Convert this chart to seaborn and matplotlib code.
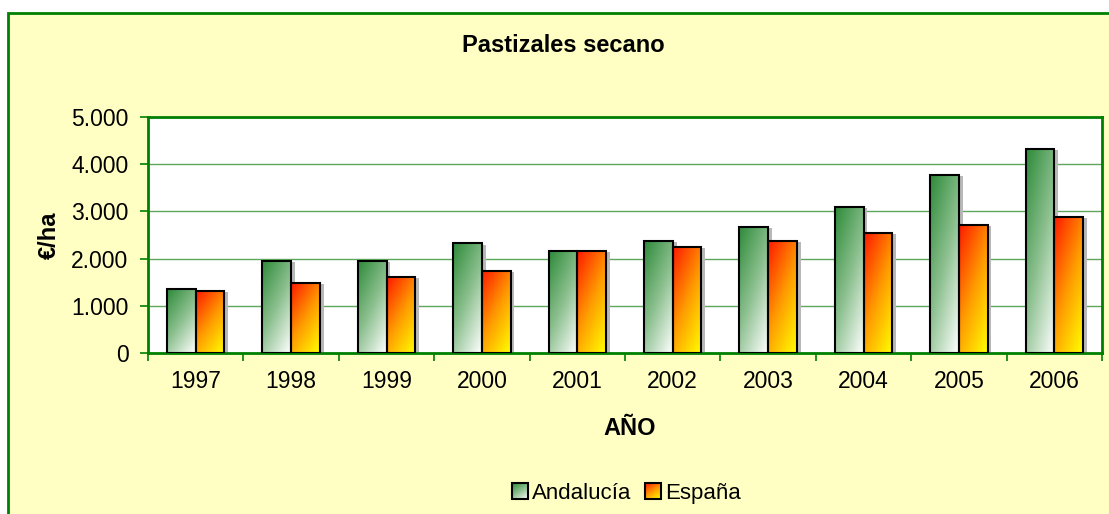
import numpy as np
import pandas as pd
import matplotlib
matplotlib.use("Agg")
import matplotlib.pyplot as plt
import seaborn as sns
from matplotlib.patches import Rectangle
from matplotlib.colors import LinearSegmentedColormap
from matplotlib.legend_handler import HandlerBase
from matplotlib.image import BboxImage
from matplotlib.transforms import Bbox, TransformedBbox

years = ["1997", "1998", "1999", "2000", "2001", "2002", "2003", "2004", "2005", "2006"]
andalucia = [1350, 1950, 1950, 2320, 2160, 2370, 2670, 3090, 3770, 4320]
espana = [1310, 1480, 1610, 1740, 2160, 2240, 2370, 2540, 2710, 2880]
series = ["Andalucía", "España"]
yticks = [0, 1000, 2000, 3000, 4000, 5000]
ytick_labels = ["0", "1.000", "2.000", "3.000", "4.000", "5.000"]

df = pd.DataFrame({
    "year": years * 2,
    "value": andalucia + espana,
    "serie": [series[0]] * len(years) + [series[1]] * len(years),
})

sns.set_theme(style="white")
plt.rcParams["font.family"] = ["Liberation Sans", "DejaVu Sans"]
plt.rcParams["text.color"] = "black"
plt.rcParams["axes.labelcolor"] = "black"
plt.rcParams["xtick.color"] = "black"
plt.rcParams["ytick.color"] = "black"

BG = "#FFFFC4"
GREEN = "#008000"
GRID = "#5DA85D"

cmaps = {
    series[0]: LinearSegmentedColormap.from_list("g", ["#2E8B3A", "#8CC08F", "#FFFFFF"]),
    series[1]: LinearSegmentedColormap.from_list("o", ["#FF1A00", "#FF9A00", "#FFFF00"]),
}

def grad_array(n=64):
    u = np.linspace(0, 1, n)[None, :]
    v = np.linspace(0, 1, n)[:, None]
    return 0.6 * v + 0.4 * u  # top-left dark -> bottom-right light

fig = plt.figure(figsize=(11.09, 5.14), dpi=100)
fig.patch.set_facecolor("white")
frame = Rectangle((8 / 1109, -0.1), 1.2, 1 - 13 / 514 + 0.1, transform=fig.transFigure,
                  facecolor=BG, edgecolor=GREEN, linewidth=2, zorder=-10)
fig.patches.append(frame)

ax = fig.add_axes([148 / 1109, 1 - 353 / 514, (1102 - 148) / 1109, (353 - 117) / 514])
ax.set_facecolor("white")

sns.barplot(data=df, x="year", y="value", hue="serie", order=years, hue_order=series,
            palette=["#6FB06F", "#FF9A00"], width=0.6, ax=ax, legend=False,
            edgecolor="black", linewidth=1.5, saturation=1)

g = grad_array()
bars = list(ax.patches)
n = len(years)
for i, p in enumerate(bars):
    s = series[0] if i < n else series[1]
    x0, y0 = p.get_x(), p.get_y()
    w, h = p.get_width(), p.get_height()
    sh = Rectangle((x0 + 0.04, y0), w, h - 25, facecolor="#B8B8B8", edgecolor="none", zorder=1.5)
    ax.add_patch(sh)
    im = ax.imshow(g, cmap=cmaps[s], extent=[x0, x0 + w, y0, y0 + h], origin="upper",
                   aspect="auto", zorder=2, interpolation="bilinear", vmin=0, vmax=1)
    im.set_clip_path(p)
    p.set_facecolor("none")
    p.set_zorder(3)

ax.set_xlim(-0.5, n - 0.5)
ax.set_ylim(0, 5000)
ax.set_yticks(yticks)
ax.set_yticklabels(ytick_labels)
ax.set_xticks(range(n))
ax.set_xticklabels(years)
ax.set_xticks(np.arange(-0.5, n, 1.0), minor=True)
ax.yaxis.grid(True, color=GRID, linewidth=1)
ax.set_axisbelow(True)
for sp in ax.spines.values():
    sp.set_color(GREEN)
    sp.set_linewidth(2)
ax.tick_params(axis="x", which="major", length=0, pad=12, labelsize=16.5, labelcolor="black")
ax.tick_params(axis="x", which="minor", length=6, width=1.2, color=GREEN, direction="out", bottom=True)
ax.tick_params(axis="y", length=6, width=1.2, color=GREEN, direction="out", left=True,
               labelsize=16.5, labelcolor="black", pad=8)

ax.set_xlabel("AÑO", fontsize=17, fontweight="bold")
ax.xaxis.set_label_coords(0.505, -0.318)
ax.xaxis.label.set_va("center")
ax.set_ylabel("€/ha", fontsize=17, fontweight="bold")
ax.yaxis.set_label_coords(-0.103, 0.5)
ax.yaxis.label.set_va("center")

ax.text(0.435, 1.305, "Pastizales secano", transform=ax.transAxes, ha="center", va="center",
        fontsize=17, fontweight="bold", color="black")


class GradHandler(HandlerBase):
    def __init__(self, cmap):
        super().__init__()
        self.cmap = cmap

    def create_artists(self, legend, orig_handle, xdescent, ydescent, width, height, fontsize, trans):
        size = min(width, height) * 1.0
        x = -xdescent + width - size
        y = -ydescent + (height - size) / 2
        bb = TransformedBbox(Bbox.from_bounds(x, y, size, size), trans)
        img = BboxImage(bb, cmap=self.cmap, norm=matplotlib.colors.Normalize(0, 1),
                        interpolation="bilinear", origin="upper")
        img.set_data(grad_array())
        rect = Rectangle((x, y), size, size, facecolor="none", edgecolor="black",
                         linewidth=1.5, transform=trans)
        return [img, rect]


h1 = Rectangle((0, 0), 1, 1)
h2 = Rectangle((0, 0), 1, 1)
fig.legend([h1, h2], series, loc="center", bbox_to_anchor=(0.565, 0.04), ncol=2, frameon=False,
           fontsize=16, handlelength=0.7, handleheight=0.7, handletextpad=0.2, columnspacing=0.6,
           handler_map={h1: GradHandler(cmaps[series[0]]), h2: GradHandler(cmaps[series[1]])})

fig.savefig("out.png", dpi=100, facecolor=fig.get_facecolor())
